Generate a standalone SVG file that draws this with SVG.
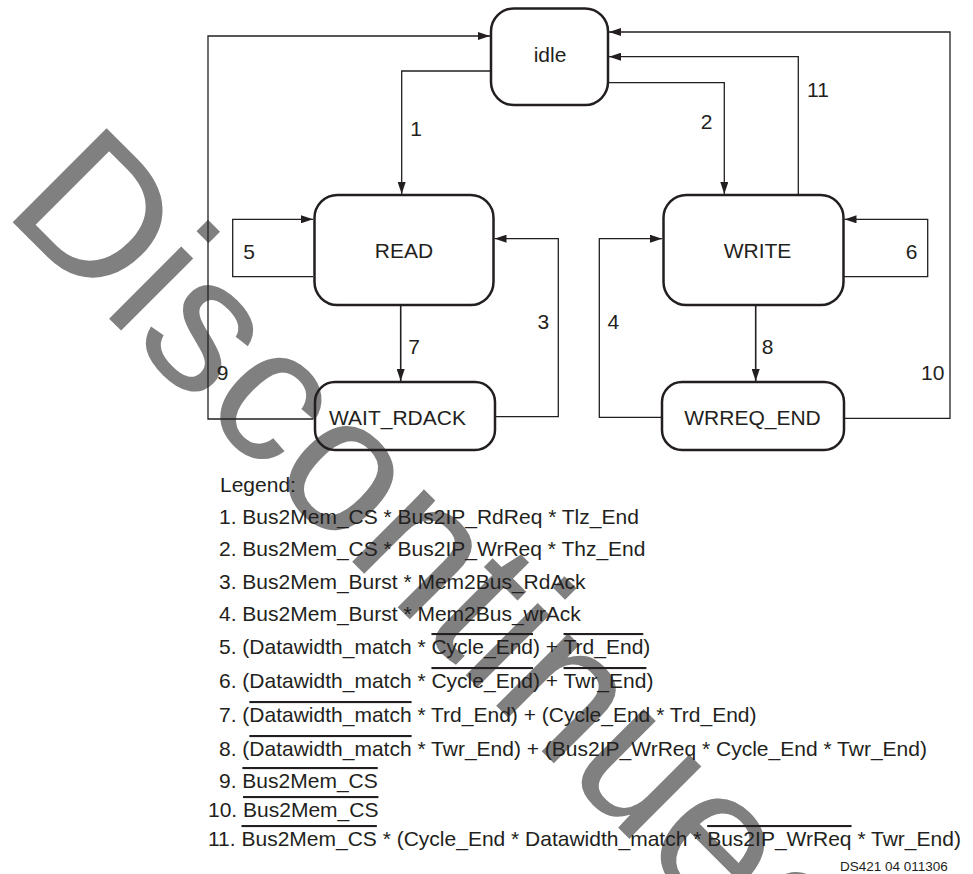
<svg xmlns="http://www.w3.org/2000/svg" width="973" height="874" viewBox="0 0 973 874">
<style>
.node{fill:none;stroke:#231f20;stroke-width:2.5}
.lbl{font-family:"Liberation Sans",Arial,sans-serif;font-size:21px;fill:#231f20}
.conn{fill:none;stroke:#231f20;stroke-width:1.3}
.ov{text-decoration:overline}
.wm{font-family:"Liberation Sans",Arial,sans-serif;font-size:193px;fill:#808080}
</style>
<defs>
<marker id="arr" markerUnits="userSpaceOnUse" markerWidth="12" markerHeight="8" refX="12" refY="4" orient="auto">
<path d="M0,0 L12,4 L0,8 z" fill="#231f20"/>
</marker>
</defs>
<rect width="973" height="874" fill="#ffffff"/>
<text id="watermark" class="wm" x="1.4" y="211" transform="rotate(45 1.4 211)">Discontinued</text>
<g id="connectors" class="conn" marker-end="url(#arr)">
<path d="M313,419 H208 V36 H490"/>
<path d="M490,71 H401.7 V194"/>
<path d="M609,82.7 H724.3 V194"/>
<path d="M798.3,194 V56.7 H609"/>
<path d="M845,418.3 H950 V32 H609"/>
<path d="M313,276.7 H232.7 V219.3 H313"/>
<path d="M496,416.7 H558.3 V238.7 H494.5"/>
<path d="M400.7,306 V381" stroke-width="1.6"/>
<path d="M844,276.7 H927.7 V219.3 H844.5"/>
<path d="M661,417.3 H599.3 V238.7 H662"/>
<path d="M755.7,306 V381" stroke-width="1.6"/>
</g>
<g id="connector-labels" class="lbl" text-anchor="middle">
<text x="416" y="135.5">1</text>
<text x="706.7" y="129">2</text>
<text x="543.3" y="329">3</text>
<text x="613.3" y="329">4</text>
<text x="249" y="259">5</text>
<text x="911.7" y="259">6</text>
<text x="414" y="354">7</text>
<text x="767.7" y="354">8</text>
<text x="222.7" y="380">9</text>
<text x="932.7" y="380">10</text>
<text x="818" y="96.5">11</text>
</g>
<g id="idle"><rect class="node" x="491" y="8.5" width="117" height="96.5" rx="23"/><text class="lbl" x="550" y="61.5" text-anchor="middle">idle</text></g>
<g id="read"><rect class="node" x="314.5" y="195" width="179" height="110" rx="23"/><text class="lbl" x="404" y="257.5" text-anchor="middle">READ</text></g>
<g id="write"><rect class="node" x="663.5" y="195" width="180" height="110" rx="23"/><text class="lbl" x="757.5" y="257.5" text-anchor="middle">WRITE</text></g>
<g id="wait_rdack"><rect class="node" x="315" y="382" width="180" height="68" rx="20"/><text class="lbl" x="329" y="424.5">WAIT_RDACK</text></g>
<g id="wrreq_end"><rect class="node" x="662" y="382" width="182" height="68" rx="20"/><text class="lbl" x="752.5" y="424.5" text-anchor="middle">WRREQ_END</text></g>
<g id="legend" class="lbl">
<text x="220" y="492">Legend:</text>
<text x="219" y="524">1. Bus2Mem_CS * Bus2IP_RdReq * Tlz_End</text>
<text x="219" y="556">2. Bus2Mem_CS * Bus2IP_WrReq * Thz_End</text>
<text x="219" y="589">3. Bus2Mem_Burst * Mem2Bus_RdAck</text>
<text x="219" y="621">4. Bus2Mem_Burst * Mem2Bus_wrAck</text>
<text x="219" y="654">5. (Datawidth_match * <tspan class="ov">Cycle_End</tspan>) + <tspan class="ov">Trd_End</tspan>)</text>
<text x="219" y="688">6. (Datawidth_match * <tspan class="ov">Cycle_End</tspan>) + <tspan class="ov">Twr_End</tspan>)</text>
<text x="219" y="722">7. (<tspan class="ov">Datawidth_match</tspan> * Trd_End) + (Cycle_End * Trd_End)</text>
<text x="219" y="756">8. (<tspan class="ov">Datawidth_match</tspan> * Twr_End) + (Bus2IP_WrReq * Cycle_End * Twr_End)</text>
<text x="219" y="788">9. <tspan class="ov">Bus2Mem_CS</tspan></text>
<text x="208" y="817">10. <tspan class="ov">Bus2Mem_CS</tspan></text>
<text x="208" y="846">11. <tspan class="ov">Bus2Mem_CS</tspan> * (Cycle_End * Datawidth_match * <tspan class="ov">Bus2IP_WrReq</tspan> * Twr_End)</text>
<text x="840" y="871" font-size="13.5">DS421 04 011306</text>
</g>
</svg>
